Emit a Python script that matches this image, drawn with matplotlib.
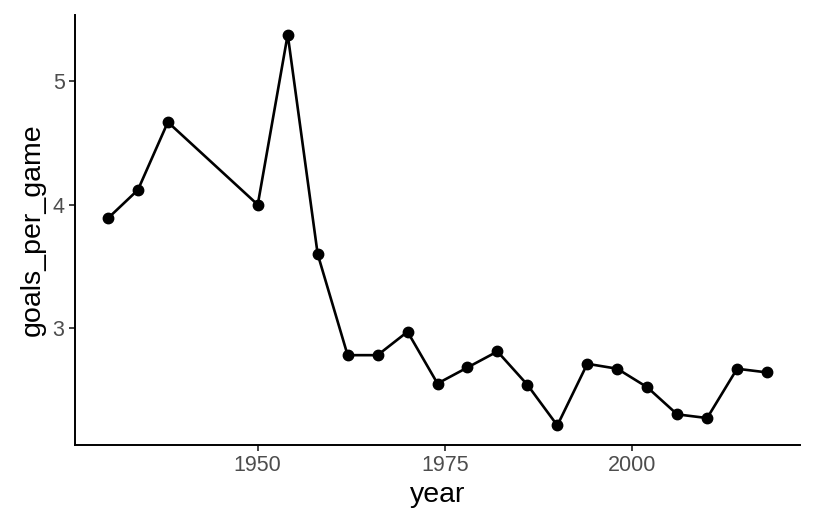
import matplotlib
matplotlib.use('Agg')
from matplotlib import pyplot as plt

# world cup goals per game by tournament year
years = [1930, 1934, 1938, 1950, 1954, 1958, 1962, 1966, 1970, 1974, 1978,
         1982, 1986, 1990, 1994, 1998, 2002, 2006, 2010, 2014, 2018]
goals_per_game = [3.89, 4.12, 4.67, 4.00, 5.38, 3.60, 2.78, 2.78, 2.97, 2.55, 2.68,
                  2.81, 2.54, 2.21, 2.71, 2.67, 2.52, 2.30, 2.27, 2.67, 2.64]
x_ticks = [1950, 1975, 2000]
y_ticks = [3, 4, 5]

plt.rcParams['font.family'] = ['Liberation Sans', 'DejaVu Sans']

fig = plt.figure(figsize=(8.16, 5.28), dpi=100)
ax = fig.add_axes([75 / 816, 1 - 445 / 528, 725 / 816, 430 / 528])

ax.plot(years, goals_per_game, color='black', linewidth=1.9, zorder=2)
ax.plot(years, goals_per_game, 'o', color='black', markersize=7.5, zorder=3)

# ggplot-style 5% expansion
xr = max(years) - min(years)
yr = max(goals_per_game) - min(goals_per_game)
ax.set_xlim(min(years) - 0.05 * xr, max(years) + 0.05 * xr)
ax.set_ylim(min(goals_per_game) - 0.05 * yr, max(goals_per_game) + 0.05 * yr)

ax.set_xticks(x_ticks)
ax.set_yticks(y_ticks)
ax.tick_params(axis='both', length=4.5, width=1.3, color='#333333',
               labelsize=15.5, labelcolor='#4D4D4D', pad=3)

for side in ('top', 'right'):
    ax.spines[side].set_visible(False)
for side in ('left', 'bottom'):
    ax.spines[side].set_linewidth(1.4)
    ax.spines[side].set_color('black')

ax.set_xlabel('year', fontsize=20.5, labelpad=4)
ax.set_ylabel('goals_per_game', fontsize=20.5, labelpad=5)

fig.savefig('out.png', dpi=100)
